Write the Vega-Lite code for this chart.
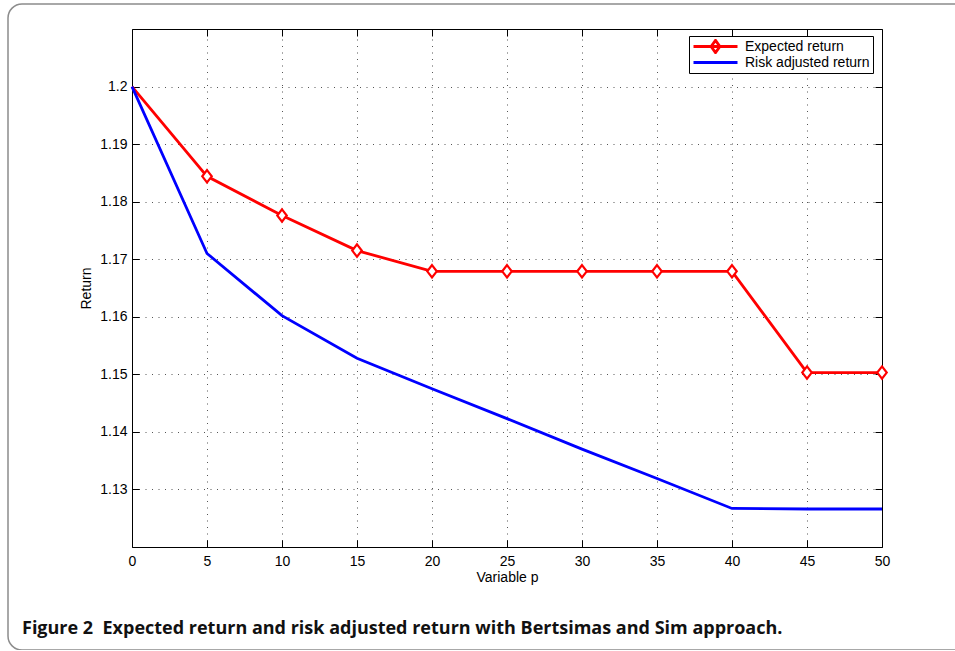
{
  "$schema": "https://vega.github.io/schema/vega-lite/v6.json",
  "width": 960,
  "height": 646,
  "autosize": "none",
  "padding": {"left": 8, "top": 4, "right": 0, "bottom": 0},
  "background": "white",
  "title": {
    "text": "Figure 2\u00a0 Expected return and risk adjusted return with Bertsimas and Sim approach.",
    "orient": "bottom",
    "anchor": "start",
    "frame": "group",
    "offset": -30,
    "dx": 14,
    "font": "Open Sans",
    "fontSize": 18,
    "fontWeight": "bold",
    "color": "#111"
  },
  "config": {
    "view": {"stroke": "#8c8c8c", "strokeWidth": 1.5, "cornerRadius": 14},
    "font": "Liberation Sans",
    "axis": {
      "labelFont": "Liberation Sans",
      "titleFont": "Liberation Sans",
      "labelFontSize": 14,
      "titleFontSize": 14,
      "titleFontWeight": "normal",
      "labelColor": "#000",
      "titleColor": "#000",
      "domainColor": "#000",
      "domainWidth": 1,
      "tickColor": "#000",
      "tickWidth": 1,
      "tickSize": -7,
      "gridColor": "#555",
      "gridDash": [1, 5.5],
      "gridWidth": 1
    }
  },
  "data": {
    "values": [
      {"p": 0, "series": "Expected return", "r": 1.2},
      {"p": 5, "series": "Expected return", "r": 1.1844},
      {"p": 10, "series": "Expected return", "r": 1.1776},
      {"p": 15, "series": "Expected return", "r": 1.1715},
      {"p": 20, "series": "Expected return", "r": 1.1679},
      {"p": 25, "series": "Expected return", "r": 1.1679},
      {"p": 30, "series": "Expected return", "r": 1.1679},
      {"p": 35, "series": "Expected return", "r": 1.1679},
      {"p": 40, "series": "Expected return", "r": 1.1679},
      {"p": 45, "series": "Expected return", "r": 1.1503},
      {"p": 50, "series": "Expected return", "r": 1.1503},
      {"p": 0, "series": "Risk adjusted return", "r": 1.2},
      {"p": 5, "series": "Risk adjusted return", "r": 1.1710},
      {"p": 10, "series": "Risk adjusted return", "r": 1.1602},
      {"p": 15, "series": "Risk adjusted return", "r": 1.1528},
      {"p": 20, "series": "Risk adjusted return", "r": 1.1475},
      {"p": 25, "series": "Risk adjusted return", "r": 1.1423},
      {"p": 30, "series": "Risk adjusted return", "r": 1.1370},
      {"p": 35, "series": "Risk adjusted return", "r": 1.1319},
      {"p": 40, "series": "Risk adjusted return", "r": 1.1267},
      {"p": 45, "series": "Risk adjusted return", "r": 1.1266},
      {"p": 50, "series": "Risk adjusted return", "r": 1.1266}
    ]
  },
  "layer": [
    {
      "mark": {"type": "point", "opacity": 0},
      "encoding": {
        "x": {"field": "p", "type": "quantitative", "scale": {"domain": [0, 50], "range": [124, 874], "nice": false, "zero": false},
          "axis": {"orient": "top", "offset": -25, "values": [0,5,10,15,20,25,30,35,40,45,50], "labels": false, "title": null, "grid": true}},
        "y": {"field": "r", "type": "quantitative", "scale": {"domain": [1.12, 1.21], "range": [543, 25], "nice": false, "zero": false},
          "axis": {"orient": "right", "offset": -86, "values": [1.13,1.14,1.15,1.16,1.17,1.18,1.19,1.2], "labels": false, "title": null, "grid": false}}
      }
    },
    {
      "mark": {"type": "line", "strokeWidth": 2.8},
      "encoding": {
        "x": {
          "field": "p", "type": "quantitative",
          "scale": {"domain": [0, 50], "range": [124, 874], "nice": false, "zero": false},
          "axis": {"orient": "bottom", "offset": -103, "values": [0,5,10,15,20,25,30,35,40,45,50], "title": "Variable p", "titlePadding": 2, "labelPadding": 14, "grid": false, "labelFlush": false}
        },
        "y": {
          "field": "r", "type": "quantitative",
          "scale": {"domain": [1.12, 1.21], "range": [543, 25], "nice": false, "zero": false},
          "axis": {"orient": "left", "offset": -124, "values": [1.13,1.14,1.15,1.16,1.17,1.18,1.19,1.2], "format": ".2~f", "title": "Return", "titlePadding": 6, "labelPadding": 12, "grid": true}
        },
        "color": {
          "field": "series", "type": "nominal",
          "scale": {"domain": ["Expected return", "Risk adjusted return"], "range": ["#ff0000", "#0000ff"]},
          "legend": {
            "orient": "none",
            "legendX": 681,
            "legendY": 32,
            "title": null,
            "fillColor": "white",
            "strokeColor": "#000",
            "padding": 3,
            "rowPadding": 1,
            "clipHeight": 15,
            "symbolSize": 1936,
            "symbolStrokeWidth": 2.8,
            "labelFont": "Liberation Sans",
            "labelFontSize": 14,
            "labelColor": "#000",
            "labelOffset": 6,
            "encode": {
              "symbols": {
                "update": {
                  "shape": {"signal": "datum.value === 'Expected return' ? 'M-1,0H1M0,-0.28L0.2,0L0,0.28L-0.2,0Z' : 'M-1,0H1'"},
                  "fill": {"value": "transparent"}
                }
              }
            }
          }
        }
      }
    },
    {
      "transform": [{"filter": "datum.p > 0 && datum.series === 'Expected return'"}],
      "mark": {"type": "point", "shape": "M0,-1.3L1,0L0,1.3L-1,0Z", "filled": false, "strokeWidth": 2.2, "size": 90, "color": "#ff0000", "fill": "white", "fillOpacity": 1},
      "encoding": {
        "x": {"field": "p", "type": "quantitative", "scale": {"domain": [0, 50], "range": [124, 874], "nice": false, "zero": false}, "axis": null},
        "y": {"field": "r", "type": "quantitative", "scale": {"domain": [1.12, 1.21], "range": [543, 25], "nice": false, "zero": false}, "axis": null}
      }
    }
  ],
  "resolve": {"scale": {"x": "independent", "y": "independent"}}
}
